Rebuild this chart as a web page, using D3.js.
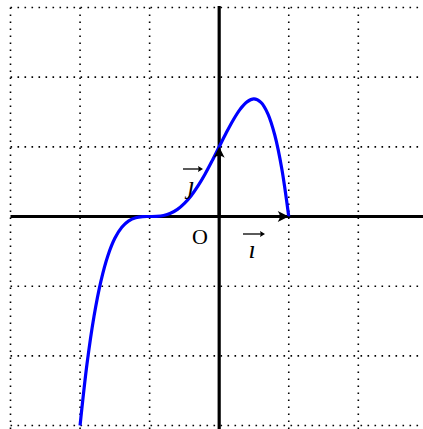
<!DOCTYPE html>
<meta charset="utf-8">
<head>
<style>
  body { margin: 0; background: #fff; }
  svg { display: block; }
  .grid line { stroke: #000; stroke-width: 1.6; stroke-dasharray: 1.6 5.4; }
  .lbl { font-family: "Liberation Serif", "DejaVu Serif", serif; font-size: 22px; }
</style>
</head>
<body>
<script src="https://cdn.jsdelivr.net/npm/d3@7"></script>
<script>
// curve samples
var xs = [-2, -1.9, -1.8, -1.7, -1.6, -1.5, -1.4, -1.3, -1.2, -1.1, -1, -0.9, -0.8, -0.7, -0.6, -0.5,
          -0.4, -0.3, -0.2, -0.1, 0, 0.1, 0.2, 0.3, 0.4, 0.5, 0.6, 0.7, 0.8, 0.9, 1];
var ys = [-3, -2.114, -1.434, -0.926, -0.562, -0.313, -0.154, -0.062, -0.018, -0.002, 0, 0.002, 0.014,
          0.046, 0.102, 0.188, 0.302, 0.446, 0.614, 0.802, 1, 1.198, 1.382, 1.538, 1.646, 1.688, 1.638,
          1.474, 1.166, 0.686, 0];
var gridX = [-3, -2, -1, 0, 1, 2];
var gridY = [3, 2, 1, 0, -1, -2, -3];

var W = 423, H = 429;
var x = d3.scaleLinear().domain([-3, 2.93]).range([10.5, 423]);
var y = d3.scaleLinear().domain([3, -3.05]).range([7.5, 429]);

var svg = d3.select("body").append("svg").attr("width", W).attr("height", H);

var g = svg.append("g").attr("class", "grid");
g.selectAll(".gx").data(gridX.filter(function (d) { return d !== 0; })).enter().append("line")
  .attr("x1", function (d) { return x(d); }).attr("x2", function (d) { return x(d); })
  .attr("y1", y(3)).attr("y2", H);
g.selectAll(".gy").data(gridY.filter(function (d) { return d !== 0; })).enter().append("line")
  .attr("y1", function (d) { return y(d); }).attr("y2", function (d) { return y(d); })
  .attr("x1", x(-3)).attr("x2", W);

// axes
svg.append("line").attr("x1", x(-3)).attr("x2", W).attr("y1", y(0)).attr("y2", y(0))
  .attr("stroke", "#000").attr("stroke-width", 3.2);
svg.append("line").attr("x1", x(0)).attr("x2", x(0)).attr("y1", y(3) - 1.5).attr("y2", H)
  .attr("stroke", "#000").attr("stroke-width", 3.2);

// curve
var pts = xs.map(function (v, i) { return [v, ys[i]]; });
svg.append("path").datum(pts)
  .attr("fill", "none").attr("stroke", "#0000ff").attr("stroke-width", 3.2)
  .attr("d", d3.line().x(function (d) { return x(d[0]); }).y(function (d) { return y(d[1]); })
    .curve(d3.curveCatmullRom));

// unit vectors
function head(tx, ty, ang) {
  var p = "M0,0 L-11,-5.5 Q-7,0 -11,5.5 Z";
  svg.append("path").attr("d", p).attr("fill", "#000")
    .attr("transform", "translate(" + tx + "," + ty + ") rotate(" + ang + ")");
}
svg.append("line").attr("x1", x(0)).attr("y1", y(0)).attr("x2", x(1) - 8).attr("y2", y(0))
  .attr("stroke", "#000").attr("stroke-width", 3.2);
head(x(1), y(0), 0);
svg.append("line").attr("x1", x(0)).attr("y1", y(0)).attr("x2", x(0)).attr("y2", y(1) + 8)
  .attr("stroke", "#000").attr("stroke-width", 3.2);
head(x(0), y(1), -90);

// labels
svg.append("text").attr("class", "lbl").attr("x", 200).attr("y", 244)
  .attr("text-anchor", "middle").text("O");
svg.append("text").attr("class", "lbl").attr("x", 252).attr("y", 258)
  .attr("text-anchor", "middle").style("font-style", "italic").style("font-size", "26px").text("\u0131");
svg.append("text").attr("class", "lbl").attr("x", 191).attr("y", 194)
  .attr("text-anchor", "middle").style("font-style", "italic").style("font-size", "26px").text("\u0237");

function overArrow(x1, x2, yy) {
  svg.append("line").attr("x1", x1).attr("x2", x2 - 3).attr("y1", yy).attr("y2", yy)
    .attr("stroke", "#000").attr("stroke-width", 1.3);
  svg.append("path").attr("d", "M0,0 L-5,-3 Q-3.5,0 -5,3 Z").attr("fill", "#000")
    .attr("transform", "translate(" + x2 + "," + yy + ")");
}
overArrow(243, 265, 234);
overArrow(183, 203, 169);
</script>
</body>
